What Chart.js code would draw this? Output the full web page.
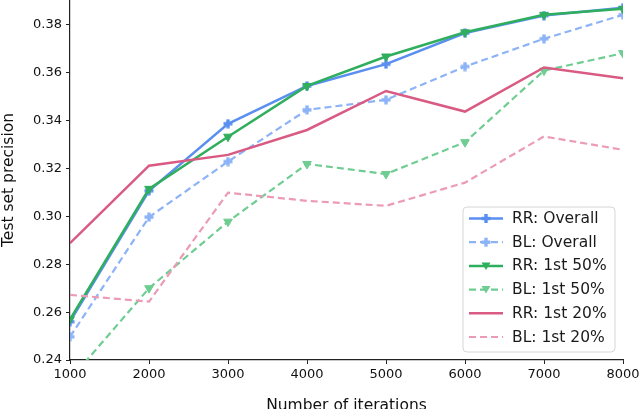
<!DOCTYPE html>
<html>
<head>
<meta charset="utf-8">
<script src="https://cdn.jsdelivr.net/npm/chart.js@4/dist/chart.umd.min.js"></script>
<style>
  html, body { margin: 0; padding: 0; background: #fff; }
  #wrap { width: 640px; height: 409px; }
</style>
</head>
<body>
<div id="wrap"><canvas id="precChart" width="640" height="409"></canvas></div>
<script>
// data
var iterations = [1000, 2000, 3000, 4000, 5000, 6000, 7000, 8000];
var rrOverall = [0.2560, 0.3107, 0.3387, 0.3545, 0.3636, 0.3766, 0.3839, 0.3872];
var blOverall = [0.2497, 0.2997, 0.3229, 0.3445, 0.3487, 0.3626, 0.3742, 0.3842];
var rr50 = [0.2570, 0.3115, 0.3333, 0.3545, 0.3668, 0.3769, 0.3842, 0.3867];
var bl50 = [0.2318, 0.2700, 0.2978, 0.3219, 0.3177, 0.3310, 0.3609, 0.3682];
var rr20 = [0.2888, 0.3212, 0.3257, 0.3361, 0.3524, 0.3438, 0.3622, 0.3577];
var bl20 = [0.2672, 0.2644, 0.3099, 0.3065, 0.3044, 0.3141, 0.3334, 0.3278];
var xTicks = [1000, 2000, 3000, 4000, 5000, 6000, 7000, 8000];
var yTicks = [0.24, 0.26, 0.28, 0.30, 0.32, 0.34, 0.36, 0.38];

var seriesNames = ['RR: Overall', 'BL: Overall', 'RR: 1st 50%', 'BL: 1st 50%', 'RR: 1st 20%', 'BL: 1st 20%'];
var seriesData = [rrOverall, blOverall, rr50, bl50, rr20, bl20];
var seriesColors = ['#5a8ff0', '#8db3f7', '#2fae5d', '#6fcd92', '#d95a82', '#ec9bb6'];
var seriesMarker = ['plus', 'plus', 'tri', 'tri', null, null];
var seriesDashed = [false, true, false, true, false, true];

// markers at the ends should not push the plot area inward (matplotlib just clips them)
Chart.registry.getController('line').prototype.getMaxOverflow = function () { return 0; };

function plusMarker(color) {
  var c = document.createElement('canvas');
  c.width = 10; c.height = 10;
  var g = c.getContext('2d');
  g.fillStyle = color;
  g.fillRect(3.3, 0.5, 3.4, 9);
  g.fillRect(0.5, 3.3, 9, 3.4);
  return c;
}

var datasets = seriesData.map(function (vals, i) {
  var ds = {
    label: seriesNames[i],
    data: iterations.map(function (x, k) { return {x: x, y: vals[k]}; }),
    borderColor: seriesColors[i],
    backgroundColor: seriesColors[i],
    borderWidth: seriesDashed[i] ? 2.2 : 2.5,
    borderDash: seriesDashed[i] ? [7, 4] : [],
    tension: 0,
    order: 5 - i,
    pointRadius: 0
  };
  if (seriesMarker[i] === 'plus') {
    ds.pointStyle = plusMarker(seriesColors[i]);
    ds.pointRadius = 5;
  } else if (seriesMarker[i] === 'tri') {
    ds.pointStyle = 'triangle';
    ds.pointRotation = 180;
    ds.pointRadius = 5;
    ds.pointBorderWidth = 1;
  }
  return ds;
});

// legend drawn inside the plot, lower right
var boxLegend = {
  id: 'boxLegend',
  afterDraw: function (chart) {
    var ctx = chart.ctx;
    var x0 = 463, y0 = 207, w = 152, h = 145, r = 4;
    ctx.save();
    ctx.beginPath();
    ctx.moveTo(x0 + r, y0);
    ctx.arcTo(x0 + w, y0, x0 + w, y0 + h, r);
    ctx.arcTo(x0 + w, y0 + h, x0, y0 + h, r);
    ctx.arcTo(x0, y0 + h, x0, y0, r);
    ctx.arcTo(x0, y0, x0 + w, y0, r);
    ctx.closePath();
    ctx.fillStyle = 'rgba(255,255,255,0.8)';
    ctx.fill();
    ctx.strokeStyle = '#d6d6d6';
    ctx.lineWidth = 1;
    ctx.stroke();

    for (var i = 0; i < seriesNames.length; i++) {
      var cy = 218.5 + i * 23.7;
      ctx.strokeStyle = seriesColors[i];
      ctx.lineWidth = seriesDashed[i] ? 2.2 : 2.5;
      ctx.setLineDash(seriesDashed[i] ? [7, 4] : []);
      ctx.beginPath();
      ctx.moveTo(469, cy);
      ctx.lineTo(503, cy);
      ctx.stroke();
      ctx.setLineDash([]);
      ctx.fillStyle = seriesColors[i];
      if (seriesMarker[i] === 'plus') {
        ctx.fillRect(484.3, cy - 4.5, 3.4, 9);
        ctx.fillRect(481.5, cy - 1.7, 9, 3.4);
      } else if (seriesMarker[i] === 'tri') {
        ctx.beginPath();
        ctx.moveTo(481.5, cy - 3.5);
        ctx.lineTo(490.5, cy - 3.5);
        ctx.lineTo(486, cy + 4);
        ctx.closePath();
        ctx.fill();
      }
      ctx.fillStyle = '#1a1a1a';
      ctx.font = '15.5px "DejaVu Sans"';
      ctx.textBaseline = 'middle';
      ctx.textAlign = 'left';
      ctx.fillText(seriesNames[i], 512, cy + 0.5);
    }
    ctx.restore();
  }
};

var precChart = new Chart(document.getElementById('precChart'), {
  type: 'line',
  data: { datasets: datasets },
  plugins: [boxLegend],
  options: {
    responsive: false,
    animation: false,
    layout: { padding: { left: 0, right: 17, top: 0, bottom: 0 } },
    plugins: {
      legend: { display: false },
      tooltip: { enabled: false }
    },
    scales: {
      x: {
        type: 'linear',
        min: 1000,
        max: 8000,
        afterFit: function (scale) {
          scale.height = 49;
          scale.paddingLeft = 0;
          scale.paddingRight = 0;
        },
        afterBuildTicks: function (scale) {
          scale.ticks = xTicks.map(function (v) { return {value: v}; });
        },
        ticks: {
          color: '#111',
          font: { family: 'DejaVu Sans', size: 13 },
          padding: 3,
          maxRotation: 0,
          autoSkip: false,
          callback: function (v) { return String(v); }
        },
        grid: { drawOnChartArea: false, tickLength: 4, color: '#222', lineWidth: 1 },
        border: { display: true, color: '#222', width: 1.2 },
        title: {
          display: true,
          text: 'Number of iterations',
          color: '#111',
          font: { family: 'DejaVu Sans', size: 15.5 },
          padding: { top: 0, bottom: -6 }
        }
      },
      y: {
        min: 0.24,
        max: 0.3904,
        afterFit: function (scale) {
          scale.width = 70;
          scale.paddingTop = 0;
          scale.paddingBottom = 0;
        },
        afterBuildTicks: function (scale) {
          scale.ticks = yTicks.map(function (v) { return {value: v}; });
        },
        ticks: {
          color: '#111',
          font: { family: 'DejaVu Sans', size: 13 },
          padding: 4,
          callback: function (v) { return v.toFixed(2); }
        },
        grid: { drawOnChartArea: false, tickLength: 4, color: '#222', lineWidth: 1 },
        border: { display: true, color: '#222', width: 1.2 },
        title: {
          display: true,
          text: 'Test set precision',
          color: '#111',
          font: { family: 'DejaVu Sans', size: 15.5 },
          padding: { top: 0, bottom: 0 }
        }
      }
    }
  }
});
</script>
</body>
</html>
